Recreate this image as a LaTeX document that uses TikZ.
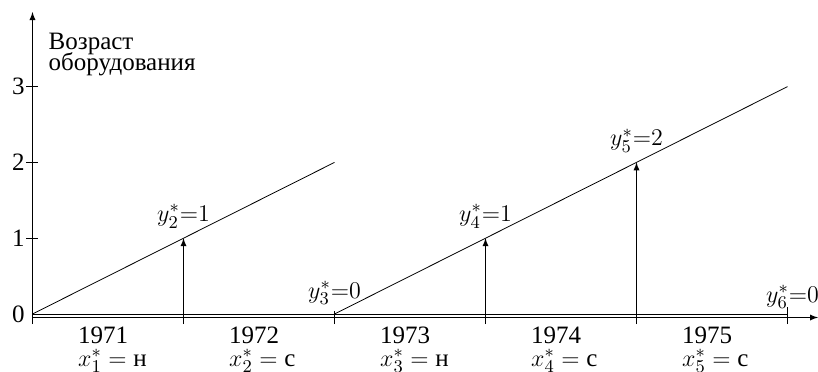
\documentclass[tikz,border=0pt]{standalone}
\usepackage{amsmath}
\usepackage[no-math]{fontspec}
\setmainfont{Liberation Serif}
\usetikzlibrary{calc, positioning}

\begin{document}
\begin{tikzpicture}[>=latex, x=75.5pt, y=37.9pt,
    font=\fontsize{12.5}{15}\selectfont,
    metka/.style={anchor=base, inner sep=0pt},
    god/.style={anchor=base west, inner sep=0pt}]
    \useasboundingbox (-16.25pt,-28.5pt) rectangle (392.75pt,157pt);

    % 1. Оси координат
    \draw[->] (0,-5pt) -- (0,151pt);
    \draw[->] (0,-1.75pt) -- (392.75pt,-1.75pt);
    \draw (0,0) -- (5,0);
    \node[god] (vozrast) at (7.9pt,132.5pt) {Возраст};
    \node[god] (oborud) at (7.9pt,122pt) {оборудования};

    % 2. Деления на осях
    \foreach \j in {0,...,3}
        \node[anchor=east, inner sep=0pt] (t\j) at (-3.75pt,\j) {\j};
    \foreach \j in {1,2,3}
        \draw (-3pt,\j) -- (3pt,\j);
    \foreach \i in {1,...,5}
        \draw (\i,-5pt) -- (\i,0);
    \draw (2,0) -- (2,1.5pt);
    \draw (5,0) -- (5,3.5pt);

    % 3. Возраст оборудования по годам
    \draw (0,0) -- (2,2);
    \draw (2,0) -- (5,3);
    \draw[->] (1,0) -- (1,1);
    \draw[->] (3,0) -- (3,1);
    \draw[->] (4,0) -- (4,2);

    % 4. Значения y
    \node[metka] (y2) at ([yshift=8.25pt]1,1) {$y_2^*{=}1$};
    \node[metka] (y3) at ([yshift=8pt]2,0) {$y_3^*{=}0$};
    \node[metka] (y4) at ([yshift=8.25pt]3,1) {$y_4^*{=}1$};
    \node[metka] (y5) at ([yshift=8.25pt]4,2) {$y_5^*{=}2$};
    \node[metka] (y6) at ([xshift=2.5pt,yshift=6pt]5,0) {$y_6^*{=}0$};

    % 5. Годы и решения
    \foreach \g/\rr [count=\k] in {1971/н, 1972/с, 1973/н, 1974/с, 1975/с} {
        \node[god] (god\k) at ({\k-0.7},-14.5pt) {\g};
        \node[god] (resh\k) at ({\k-0.7},-26pt) {$x_{\k}^* = \text{\rr}$};
    }
\end{tikzpicture}
\end{document}
